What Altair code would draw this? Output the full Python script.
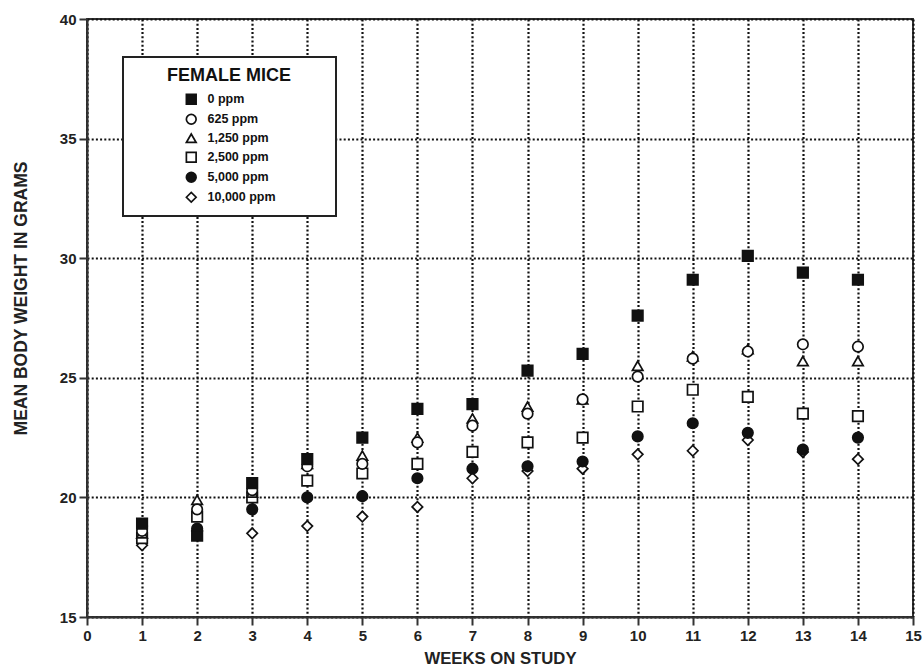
import altair as alt
import pandas as pd

# Mean body weight (g) of female mice by week and dose group
weeks = list(range(1, 15))
doses = ["0 ppm", "625 ppm", "1,250 ppm", "2,500 ppm", "5,000 ppm", "10,000 ppm"]

w_0 = [18.9, 18.4, 20.6, 21.6, 22.5, 23.7, 23.9, 25.3, 26.0, 27.6, 29.1, 30.1, 29.4, 29.1]
w_625 = [18.6, 19.5, 20.3, 21.3, 21.4, 22.3, 23.0, 23.5, 24.1, 25.05, 25.8, 26.1, 26.4, 26.3]
w_1250 = [18.5, 19.9, 20.2, 21.4, 21.75, 22.5, 23.3, 23.8, 24.1, 25.5, 25.9, 26.2, 25.7, 25.7]
w_2500 = [18.3, 19.2, 20.0, 20.7, 21.0, 21.4, 21.9, 22.3, 22.5, 23.8, 24.5, 24.2, 23.5, 23.4]
w_5000 = [18.8, 18.7, 19.5, 20.0, 20.05, 20.8, 21.2, 21.3, 21.5, 22.55, 23.1, 22.7, 22.0, 22.5]
w_10000 = [18.0, 18.6, 18.5, 18.8, 19.2, 19.6, 20.8, 21.1, 21.2, 21.8, 21.95, 22.4, 21.9, 21.6]

series = {
    "10,000 ppm": w_10000,
    "5,000 ppm": w_5000,
    "2,500 ppm": w_2500,
    "1,250 ppm": w_1250,
    "625 ppm": w_625,
    "0 ppm": w_0,
}

rows = []
for i, (dose, vals) in enumerate(series.items()):
    for wk, v in zip(weeks, vals):
        rows.append({"week": wk, "weight": v, "dose": dose, "z": i})
df = pd.DataFrame(rows)

shapes = ["square", "circle", "triangle-up", "square", "circle", "diamond"]
fills = ["#111111", "white", "white", "white", "#111111", "white"]
strokes = ["#111111"] * len(doses)

FONT = "Liberation Sans"
INK = "#222222"
MARK_SIZE = 110
MARK_STROKE = 1.7

# blank braille cells widen the legend box to the right of the labels
PAD_RIGHT = "\u2800" * 5

legend = alt.Legend(
    title="FEMALE MICE",
    orient="none",
    legendX=36,
    legendY=38,
    fillColor="white",
    strokeColor=INK,
    padding=10,
    titleFont=FONT,
    titleFontSize=18,
    titleFontWeight="bold",
    titleColor="#111111",
    titleAnchor="middle",
    titlePadding=8,
    labelFont=FONT,
    labelFontSize=12.5,
    labelFontWeight="bold",
    labelColor="#111111",
    labelLimit=0,
    labelExpr=f"datum.label + '{PAD_RIGHT}'",
    symbolSize=95,
    symbolStrokeWidth=MARK_STROKE,
    symbolOffset=52,
    labelOffset=10,
    rowPadding=2,
)

points = alt.Chart(df).mark_point(
    filled=True, size=MARK_SIZE, strokeWidth=MARK_STROKE, opacity=1
).encode(
    x=alt.X(
        "week:Q",
        scale=alt.Scale(domain=[0, 15], nice=False, zero=False),
        axis=alt.Axis(
            values=list(range(0, 16)),
            title="WEEKS ON STUDY",
            titleFontSize=16.7,
            titleY=41,
            titleBaseline="middle",
            labelFlush=False,
        ),
    ),
    y=alt.Y(
        "weight:Q",
        scale=alt.Scale(domain=[15, 40], nice=False, zero=False),
        axis=alt.Axis(
            values=[15, 20, 25, 30, 35, 40],
            title="MEAN BODY WEIGHT IN GRAMS",
            titleFontSize=17.5,
            titleX=-66,
            titleY=279,
            titleAngle=-90,
            titleAlign="center",
            titleBaseline="middle",
        ),
    ),
    shape=alt.Shape("dose:N", scale=alt.Scale(domain=doses, range=shapes), legend=legend),
    fill=alt.Fill("dose:N", scale=alt.Scale(domain=doses, range=fills), legend=legend),
    stroke=alt.Stroke("dose:N", scale=alt.Scale(domain=doses, range=strokes), legend=legend),
    order=alt.Order("z:Q"),
)

chart = points.properties(
    width=826,
    height=598,
    autosize=alt.AutoSizeParams(type="none"),
    padding={"left": 87, "top": 19, "right": 9, "bottom": 52},
    background="white",
).configure_view(
    stroke="#333333", strokeWidth=2
).configure_axis(
    domainColor="#333333",
    domainWidth=2,
    tickColor="#333333",
    tickWidth=2,
    tickSize=8,
    labelFont=FONT,
    labelFontSize=15,
    labelFontWeight="bold",
    labelColor=INK,
    labelPadding=3,
    titleFont=FONT,
    titleFontWeight="bold",
    titleColor=INK,
    grid=True,
    gridColor="#111111",
    gridDash=[2, 2.2],
    gridWidth=2.2,
    gridOpacity=1,
).configure_legend(
    strokeWidth=2
)

chart.save("out.html", embed_options={"renderer": "svg", "actions": False})
